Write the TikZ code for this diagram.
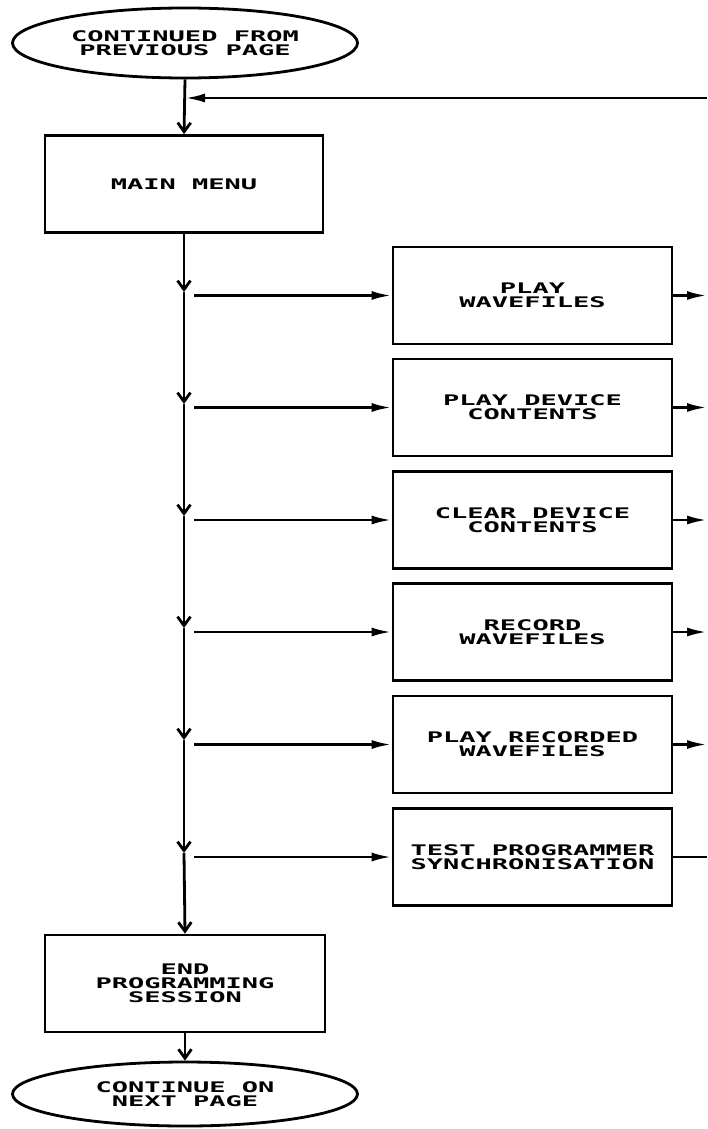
\documentclass[tikz,border=0pt]{standalone}
\usepackage{fontspec}
\usepackage{tikz}
\usetikzlibrary{positioning, arrows.meta, shapes.geometric}
\newfontfamily\plotfont{DejaVu Sans Mono}[FakeStretch=1.85]

\begin{document}
\begin{tikzpicture}[
      x=1pt, y=-1pt, line width=2.8pt,
      every node/.style={font=\plotfont\bfseries\fontsize{14.6}{13.8}\selectfont,
        align=center, line width=2.8pt},
      terminal/.style={draw, ellipse, minimum width=345pt, minimum height=70pt, inner sep=0pt},
      procbox/.style={draw, rectangle, minimum width=279pt, minimum height=97pt, inner sep=0pt},
      flow/.style={-{Straight Barb[length=9pt,width=13pt]}},
      branch/.style={-{Latex[length=20pt,width=9pt]}}
    ]
      \useasboundingbox (0,0) rectangle (707,1129);

      % left column
      \node[terminal] (start) at (185,43) {CONTINUED FROM\\PREVIOUS PAGE};
      \node[procbox, minimum width=278pt] (menu) at (184,184) {MAIN MENU};
      \node[procbox, minimum width=280pt] (finish) at (185,983.5) {END\\PROGRAMMING\\SESSION};
      \node[terminal, minimum height=64pt] (next) at (185,1094) {CONTINUE ON\\NEXT PAGE};

      % menu options
      \node[procbox] (play)   at (532.5,295.5) {PLAY\\WAVEFILES};
      \node[procbox] (device) at (532.5,407.5) {PLAY DEVICE\\CONTENTS};
      \node[procbox] (clear)  at (532.5,520)   {CLEAR DEVICE\\CONTENTS};
      \node[procbox] (record) at (532.5,632)   {RECORD\\WAVEFILES};
      \node[procbox] (replay) at (532.5,744.5) {PLAY RECORDED\\WAVEFILES};
      \node[procbox] (sync)   at (532.5,857)   {TEST PROGRAMMER\\SYNCHRONISATION};

      \coordinate (back) at (707,98);
      \foreach \n/\y in {1/292, 2/404, 3/516, 4/628, 5/740, 6/853}
        \coordinate (j\n) at (184,\y);

      % main line
      \draw[flow] (start.south) -- (menu.north);
      \draw[branch] (back) -- (back -| start.south);
      \draw[flow] (menu.south) -- (j1);
      \foreach \a/\b in {j1/j2, j2/j3, j3/j4, j4/j5, j5/j6}
        \draw[flow] (\a) -- (\b);
      \draw[flow] (j6) -- (finish.north);
      \draw[flow] (finish.south) -- (next.north);

      % branches
      \foreach \b/\j in {play/j1, device/j2, clear/j3, record/j4, replay/j5, sync/j6}
        \draw[branch] ([xshift=10pt]\b.west -| \j) -- (\b.west);
      \foreach \b in {play, device, clear, record, replay}
        \draw[branch] (\b.east) -- (\b.east -| back);
      \draw (sync.east) -- (sync.east -| back);
    \end{tikzpicture}
\end{document}
